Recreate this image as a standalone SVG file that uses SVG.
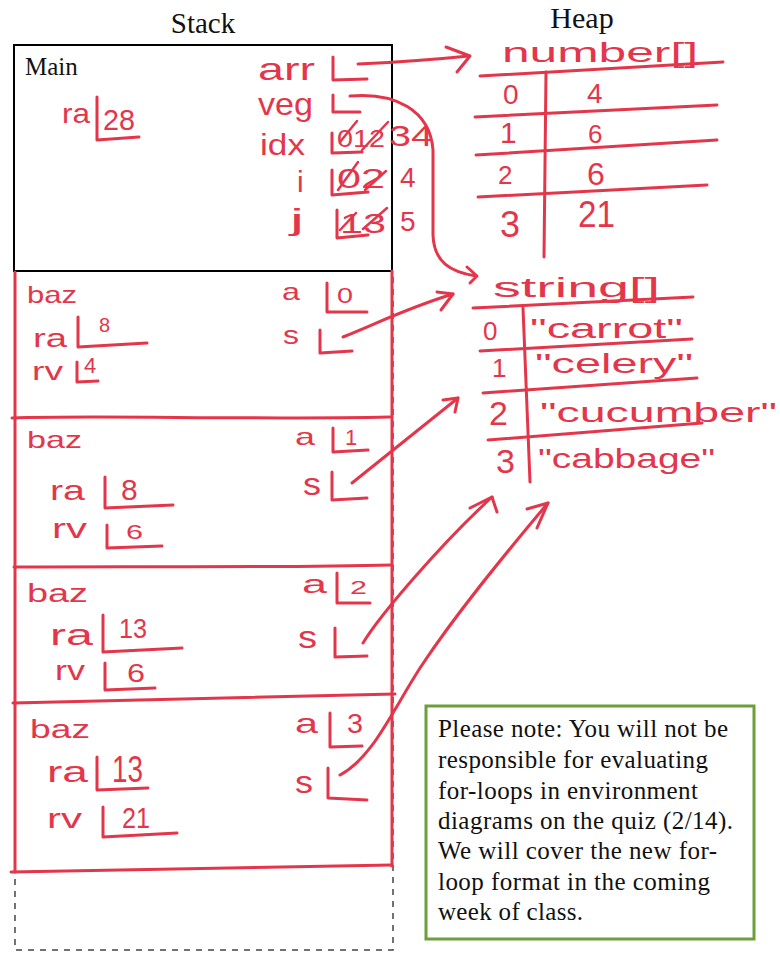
<svg xmlns="http://www.w3.org/2000/svg" width="780" height="953" viewBox="0 0 780 953">
<style>
.t{font-family:"Liberation Serif","Times New Roman",serif;fill:#111}
.h{font-family:"Liberation Sans",Arial,sans-serif;fill:#e4364b}
.r{fill:none;stroke:#e4364b;stroke-width:3;stroke-linecap:round;stroke-linejoin:round}
.rs{fill:none;stroke:#e4364b;stroke-width:2.5;stroke-linecap:round}
</style>
<rect width="780" height="953" fill="#fff"/>
<g id="titles">
<text class="t" x="203" y="33" font-size="29" text-anchor="middle">Stack</text>
<text class="t" x="582" y="28" font-size="30" text-anchor="middle">Heap</text>
</g>
<g id="stack-outline">
<rect x="15" y="271" width="378" height="679" fill="none" stroke="#444" stroke-width="1.5" stroke-dasharray="6,6"/>
</g>
<g id="main-frame">
<rect x="14" y="45" width="378" height="226" fill="none" stroke="#000" stroke-width="2"/>
<text class="t" x="25" y="75" font-size="25">Main</text>
<text class="h" x="258" y="80" font-size="32" textLength="57" lengthAdjust="spacingAndGlyphs">arr</text>
<text class="h" x="258" y="115" font-size="32" textLength="55" lengthAdjust="spacingAndGlyphs">veg</text>
<text class="h" x="260" y="155" font-size="30" textLength="45" lengthAdjust="spacingAndGlyphs">idx</text>
<text class="h" x="297" y="192" font-size="30">i</text>
<text class="h" x="290" y="230" font-size="30" textLength="14" lengthAdjust="spacingAndGlyphs">j</text>
<path class="r" d="M333,57 L333,80 L367,79"/>
<path class="r" d="M333,95 L333,112 L360,112"/>
<path class="r" d="M332,133 L332,153 L362,152"/>
<path class="r" d="M332,170 L332,195 L368,192"/>
<path class="r" d="M337,210 L337,238 L368,235"/>
<text class="h" x="337" y="147" font-size="24" textLength="48" lengthAdjust="spacingAndGlyphs">012</text>
<path class="rs" d="M340,142 L357,121 M362,150 L388,122"/>
<text class="h" x="389" y="146" font-size="30" textLength="44" lengthAdjust="spacingAndGlyphs">34</text>
<text class="h" x="337" y="188" font-size="28" textLength="48" lengthAdjust="spacingAndGlyphs">02</text>
<path class="rs" d="M338,190 L358,162 M365,190 L386,171"/>
<text class="h" x="400" y="187" font-size="28">4</text>
<text class="h" x="340" y="233" font-size="28" textLength="46" lengthAdjust="spacingAndGlyphs">13</text>
<path class="rs" d="M340,230 L356,213 M363,229 L387,208"/>
<text class="h" x="400" y="231" font-size="28">5</text>
<text class="h" x="62" y="123" font-size="28" textLength="28" lengthAdjust="spacingAndGlyphs">ra</text>
<path class="r" d="M97,97 L97,140 L139,137"/>
<text class="h" x="103" y="130" font-size="30" textLength="32" lengthAdjust="spacingAndGlyphs">28</text>
</g>
<g id="frame-lines">
<path class="r" d="M15,272 L15,872"/>
<path class="r" d="M392,271 L392,866"/>
<path class="r" d="M12,418 C100,415 250,420 390,417"/>
<path class="r" d="M14,567 C150,566 280,568 392,565"/>
<path class="r" d="M13,703 C150,700 280,697 395,694"/>
<path class="r" d="M11,872 C150,869 280,868 392,865"/>
</g>
<g id="baz-1">
<text class="h" x="27" y="303" font-size="24" textLength="50" lengthAdjust="spacingAndGlyphs">baz</text>
<text class="h" x="282" y="300" font-size="24" textLength="18" lengthAdjust="spacingAndGlyphs">a</text>
<path class="r" d="M327,283 L327,312 L367,312"/>
<text class="h" x="337" y="303" font-size="22" textLength="16" lengthAdjust="spacingAndGlyphs">0</text>
<text class="h" x="283" y="344" font-size="26" textLength="16" lengthAdjust="spacingAndGlyphs">s</text>
<path class="r" d="M320,330 L320,353 L352,351"/>
<text class="h" x="33" y="347" font-size="26" textLength="34" lengthAdjust="spacingAndGlyphs">ra</text>
<path class="r" d="M78,317 L78,347 L147,343"/>
<text class="h" x="99" y="332" font-size="20">8</text>
<text class="h" x="32" y="380" font-size="26" textLength="31" lengthAdjust="spacingAndGlyphs">rv</text>
<path class="r" d="M77,362 L77,382 L98,381"/>
<text class="h" x="84" y="373" font-size="22">4</text>
</g>
<g id="baz-2">
<text class="h" x="27" y="448" font-size="24" textLength="55" lengthAdjust="spacingAndGlyphs">baz</text>
<text class="h" x="295" y="445" font-size="24" textLength="20" lengthAdjust="spacingAndGlyphs">a</text>
<path class="r" d="M333,428 L333,452 L368,450"/>
<text class="h" x="345" y="445" font-size="22">1</text>
<text class="h" x="303" y="495" font-size="32" textLength="18" lengthAdjust="spacingAndGlyphs">s</text>
<path class="r" d="M332,472 L332,500 L367,498"/>
<text class="h" x="50" y="500" font-size="28" textLength="35" lengthAdjust="spacingAndGlyphs">ra</text>
<path class="r" d="M105,477 L105,508 L173,505"/>
<text class="h" x="121" y="500" font-size="30">8</text>
<text class="h" x="52" y="538" font-size="28" textLength="35" lengthAdjust="spacingAndGlyphs">rv</text>
<path class="r" d="M107,525 L107,548 L162,546"/>
<text class="h" x="126" y="539" font-size="20" textLength="17" lengthAdjust="spacingAndGlyphs">6</text>
</g>
<g id="baz-3">
<text class="h" x="27" y="602" font-size="26" textLength="61" lengthAdjust="spacingAndGlyphs">baz</text>
<text class="h" x="302" y="593" font-size="26" textLength="25" lengthAdjust="spacingAndGlyphs">a</text>
<path class="r" d="M337,573 L337,603 L370,603"/>
<text class="h" x="350" y="594" font-size="19" textLength="17" lengthAdjust="spacingAndGlyphs">2</text>
<text class="h" x="298" y="648" font-size="32" textLength="19" lengthAdjust="spacingAndGlyphs">s</text>
<path class="r" d="M335,628 L335,657 L367,656"/>
<text class="h" x="50" y="645" font-size="30" textLength="43" lengthAdjust="spacingAndGlyphs">ra</text>
<path class="r" d="M103,615 L103,652 L182,648"/>
<text class="h" x="119" y="638" font-size="28" textLength="28" lengthAdjust="spacingAndGlyphs">13</text>
<text class="h" x="55" y="680" font-size="28" textLength="30" lengthAdjust="spacingAndGlyphs">rv</text>
<path class="r" d="M105,663 L105,690 L155,688"/>
<text class="h" x="127" y="682" font-size="26" textLength="18" lengthAdjust="spacingAndGlyphs">6</text>
</g>
<g id="baz-4">
<text class="h" x="30" y="738" font-size="26" textLength="60" lengthAdjust="spacingAndGlyphs">baz</text>
<text class="h" x="295" y="733" font-size="28" textLength="23" lengthAdjust="spacingAndGlyphs">a</text>
<path class="r" d="M330,713 L330,747 L362,746"/>
<text class="h" x="347" y="733" font-size="28" textLength="16" lengthAdjust="spacingAndGlyphs">3</text>
<text class="h" x="295" y="793" font-size="32" textLength="18" lengthAdjust="spacingAndGlyphs">s</text>
<path class="r" d="M328,768 L328,798 L367,800"/>
<text class="h" x="47" y="782" font-size="30" textLength="41" lengthAdjust="spacingAndGlyphs">ra</text>
<path class="r" d="M97,757 L97,790 L148,788"/>
<text class="h" x="112" y="782" font-size="36" textLength="31" lengthAdjust="spacingAndGlyphs">13</text>
<text class="h" x="47" y="828" font-size="28" textLength="35" lengthAdjust="spacingAndGlyphs">rv</text>
<path class="r" d="M103,807 L103,837 L177,833"/>
<text class="h" x="122" y="828" font-size="29" textLength="28" lengthAdjust="spacingAndGlyphs">21</text>
</g>
<g id="number-array">
<text class="h" x="502" y="62" font-size="27" textLength="196" lengthAdjust="spacingAndGlyphs">number[]</text>
<path class="r" d="M480,76 L723,62"/>
<path class="r" d="M546,72 L544,257"/>
<path class="r" d="M475,117 L717,105"/>
<path class="r" d="M476,155 L717,140"/>
<path class="r" d="M478,197 L707,185"/>
<text class="h" x="503" y="104" font-size="28">0</text>
<text class="h" x="500" y="143" font-size="30">1</text>
<text class="h" x="498" y="184" font-size="26">2</text>
<text class="h" x="500" y="237" font-size="36">3</text>
<text class="h" x="587" y="103" font-size="28">4</text>
<text class="h" x="588" y="143" font-size="26">6</text>
<text class="h" x="587" y="185" font-size="32">6</text>
<text class="h" x="578" y="227" font-size="36" textLength="37" lengthAdjust="spacingAndGlyphs">21</text>
</g>
<g id="string-array">
<text class="h" x="493" y="297" font-size="27" textLength="167" lengthAdjust="spacingAndGlyphs">string[]</text>
<path class="r" d="M473,308 L693,297"/>
<path class="r" d="M523,308 L530,482"/>
<path class="r" d="M480,351 L692,339"/>
<path class="r" d="M483,393 L697,378"/>
<path class="r" d="M488,440 L702,423"/>
<text class="h" x="483" y="340" font-size="26">0</text>
<text class="h" x="492" y="377" font-size="26">1</text>
<text class="h" x="489" y="425" font-size="34">2</text>
<text class="h" x="496" y="473" font-size="34">3</text>
<text class="h" x="530" y="338" font-size="28" textLength="153" lengthAdjust="spacingAndGlyphs">"carrot"</text>
<text class="h" x="535" y="373" font-size="28" textLength="158" lengthAdjust="spacingAndGlyphs">"celery"</text>
<text class="h" x="540" y="422" font-size="28" textLength="237" lengthAdjust="spacingAndGlyphs">"cucumber"</text>
<text class="h" x="538" y="468" font-size="28" textLength="177" lengthAdjust="spacingAndGlyphs">"cabbage"</text>
</g>
<g id="connectors">
<path class="r" d="M358,64 C400,62 440,59 469,56"/>
<path class="r" d="M446,47 L470,56 L457,72"/>
<path class="r" d="M350,96 C395,92 430,110 433,150 L433,235 C434,262 450,272 476,276"/>
<path class="r" d="M467,267 L477,276 L470,283"/>
<path class="r" d="M343,337 C380,322 410,307 453,294"/>
<path class="r" d="M437,292 L453,294 L441,310"/>
<path class="r" d="M352,483 L458,398"/>
<path class="r" d="M443,400 L458,398 L455,412"/>
<path class="r" d="M363,643 C380,615 440,545 492,497"/>
<path class="r" d="M470,508 L492,497 L497,512"/>
<path class="r" d="M340,775 C372,758 390,715 420,668 C455,615 500,560 548,503"/>
<path class="r" d="M527,509 L548,503 L537,528"/>
</g>
<g id="note">
<rect x="426" y="706" width="328" height="233" fill="#fff" stroke="#6a9f3a" stroke-width="3"/>
<text class="t" font-size="25">
<tspan x="438" y="737" textLength="290">Please note: You will not be</tspan>
<tspan x="438" y="768" textLength="270">responsible for evaluating</tspan>
<tspan x="438" y="799" textLength="260">for-loops in environment</tspan>
<tspan x="438" y="829" textLength="295">diagrams on the quiz (2/14).</tspan>
<tspan x="438" y="859" textLength="279">We will cover the new for-</tspan>
<tspan x="438" y="890" textLength="272">loop format in the coming</tspan>
<tspan x="438" y="920" textLength="145">week of class.</tspan>
</text>
</g>
</svg>
